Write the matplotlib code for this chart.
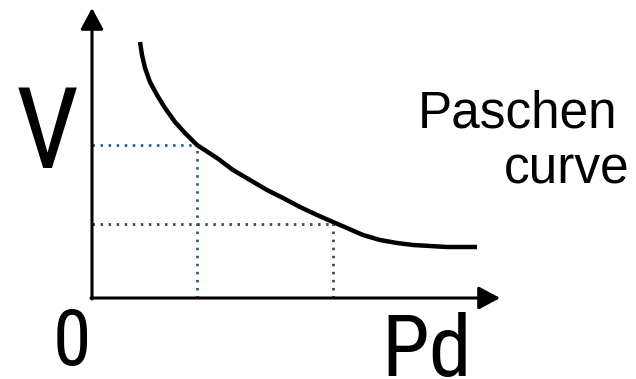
import matplotlib
matplotlib.use("Agg")
import matplotlib.pyplot as plt

# points (pixel-ish units, origin at the axes corner)
pd_vals = [48, 50, 53, 58, 65, 73, 83, 93, 105, 125, 141, 158, 175, 191,
           208, 225, 241, 255, 271, 288, 305, 321, 338, 355, 385]
v_vals = [256, 243, 230, 216, 203, 190, 176, 165, 153, 140, 128, 118, 108, 100,
          91, 83, 76, 70, 63, 58, 55, 53, 52, 51, 51]

# two marked points with their projections onto the axes
mark_pd = [105, 241]
mark_v = [153, 74]
mark_colors = ['#24628f', '#3a4a56']

fig = plt.figure(figsize=(6.36, 3.79), dpi=100)
ax = fig.add_axes([0, 0, 1, 1])
ax.set_xlim(-92, 544)
ax.set_ylim(-81, 298)
ax.axis('off')

# axes with arrow heads
arrow = dict(arrowstyle='-|>,head_length=0.65,head_width=0.35', mutation_scale=20,
             color='black', lw=2.2, shrinkA=0, shrinkB=0)
ax.annotate('', xy=(0, 290), xytext=(0, -1), arrowprops=arrow)
ax.annotate('', xy=(408, 0), xytext=(-1, 0), arrowprops=arrow)

# dotted guides
for x, y, c in zip(mark_pd, mark_v, mark_colors):
    ax.plot([0, x], [y, y], color=c, lw=2.0, linestyle=(0, (0.9, 2.0)))
    ax.plot([x, x], [0, y], color=c, lw=2.0, linestyle=(0, (0.9, 2.0)))

ax.plot(pd_vals, v_vals, color='black', lw=3.2, solid_capstyle='butt',
        solid_joinstyle='round')

cond = 'Roboto Condensed'
ax.text(-76, 130, 'V', fontsize=81, family=cond, ha='left', va='baseline')
ax.text(-39, -67, '0', fontsize=56, family=cond, ha='left', va='baseline')
ax.text(289, -78, 'Pd', fontsize=62, family=cond, ha='left', va='baseline')
ax.text(326, 171, 'Paschen', fontsize=37, family='Liberation Sans',
        ha='left', va='baseline')
ax.text(538, 115, 'curve', fontsize=37, family='Liberation Sans',
        ha='right', va='baseline')

fig.savefig('out.png', dpi=100)
